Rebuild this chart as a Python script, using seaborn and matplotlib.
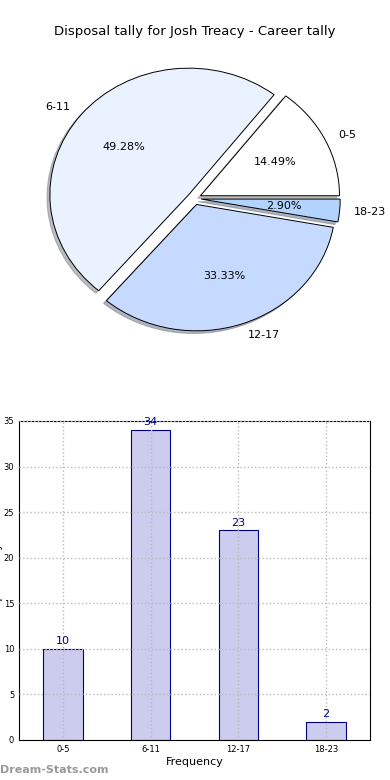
import matplotlib
matplotlib.use("Agg")
import matplotlib.pyplot as plt
import seaborn as sns
import pandas as pd

sns.set_style("white")
plt.rcParams['font.family'] = ['DejaVu Sans']
plt.rcParams['text.color'] = 'black'
plt.rcParams['axes.labelcolor'] = 'black'
plt.rcParams['xtick.color'] = 'black'
plt.rcParams['ytick.color'] = 'black'

categories = ["0-5", "6-11", "12-17", "18-23"]
counts = [10, 34, 23, 2]
pie_colors = ["#ffffff", "#eaf1ff", "#c6daff", "#b3d3ff"]
bar_color = "#ccccee"
title = "Disposal tally for Josh Treacy - Career tally"

fig = plt.figure(figsize=(3.9, 7.8), dpi=100)

# Pie
ax1 = fig.add_axes([0.0526, 0.543, 0.891, 0.405])
wedges, texts, autotexts = ax1.pie(
    counts, labels=categories, colors=pie_colors, autopct="%1.2f%%",
    explode=[0.05] * 4, shadow=dict(ox=-0.015, oy=-0.015, shade=0.5),
    startangle=0,
    wedgeprops=dict(edgecolor="black", linewidth=0.7),
    textprops=dict(fontsize=8, color="black"),
)
ax1.set_aspect("auto")
ax1.set_xlim(-1.25, 1.25)
ax1.set_ylim(-1.25, 1.25)
ax1.set_title(title, fontsize=9.5, pad=4, color="black")

# Bars
ax2 = fig.add_axes([0.0487, 0.0513, 0.9, 0.409])
df = pd.DataFrame({"cat": categories, "count": counts})
sns.barplot(data=df, x="cat", y="count", ax=ax2, width=0.45,
            color=bar_color, edgecolor="#000080", linewidth=0.8,
            saturation=1)
for i, v in enumerate(counts):
    ax2.text(i, v + 0.3, str(v), ha="center", va="bottom",
             fontsize=8, color="#000080")
ax2.set_xlim(-0.5, 3.5)
ax2.set_ylim(0, 35)
ax2.set_yticks(range(0, 36, 5))
ax2.tick_params(labelsize=6, length=2, direction="in")
ax2.grid(True, linestyle=":", color="#bbbbbb", linewidth=1)
ax2.set_axisbelow(False)
for b in ax2.patches:
    b.set_zorder(1)
ax2.set_xlabel("Frequency", fontsize=8, labelpad=2)
ax2.set_ylabel("Disposal Tally", fontsize=8)
ax2.yaxis.set_label_coords(-0.045, 0.5)
for s in ax2.spines.values():
    s.set_color("black")
    s.set_linewidth(0.8)

fig.text(0.0, 0.0125, "Dream-Stats.com", fontsize=8, color="#999999",
         fontweight="bold", ha="left", va="center")

fig.savefig("out.png", dpi=100)
